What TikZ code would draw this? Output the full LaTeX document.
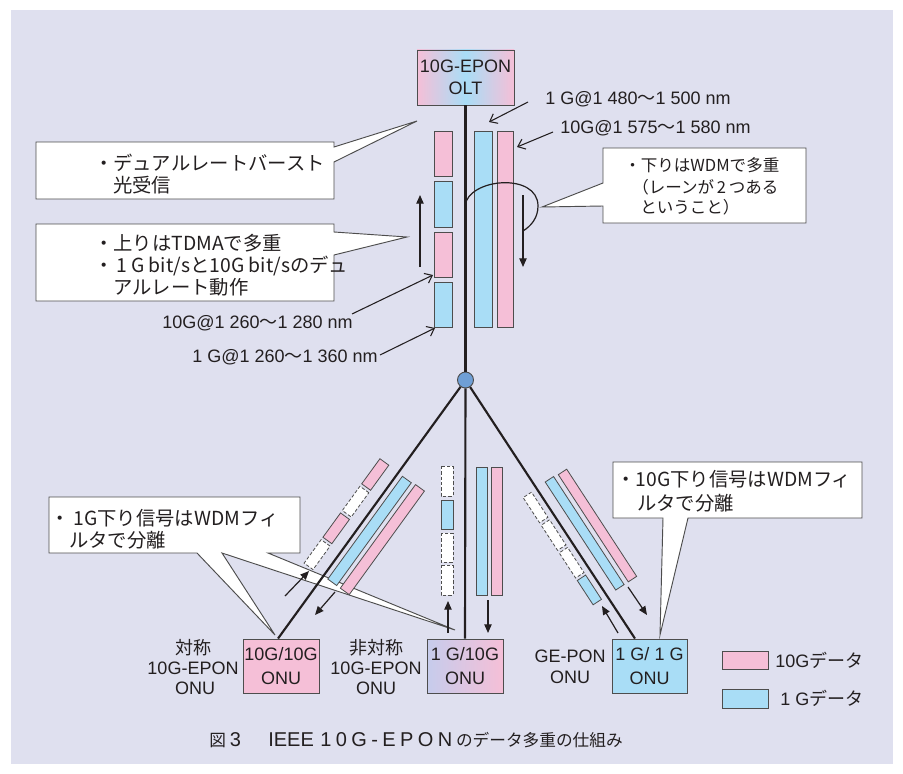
\documentclass[tikz,border=0pt]{standalone}
\usepackage{fontspec}
\setmainfont{Liberation Sans}
\newfontfamily\jp{Noto Sans CJK JP}
\newfontfamily\jpn{Noto Sans CJK JP}
\newfontfamily\capwide[LetterSpace=22]{Liberation Sans}
\usetikzlibrary{arrows.meta,calc}
\definecolor{bg}{HTML}{DFE0EF}
\definecolor{pk}{HTML}{F5BFD7}
\definecolor{bl}{HTML}{A9DDF6}
\definecolor{ink}{HTML}{231F20}
\definecolor{hubc}{HTML}{6F9FD6}
\definecolor{edge}{HTML}{4D4D4D}
\definecolor{lav}{HTML}{C6CCEC}
\begin{document}
\begin{tikzpicture}[x=0.75pt,y=-0.75pt,
  fiber/.style={line width=1.6pt, draw=ink},
  pbar/.style={fill=pk, draw=edge, line width=0.6pt},
  bbar/.style={fill=bl, draw=edge, line width=0.6pt},
  dbar/.style={fill=white, draw=edge, line width=0.6pt, dash pattern=on 2.5pt off 1.5pt},
  flow/.style={draw=ink, line width=0.9pt, -{Triangle[length=6.5pt,width=5.5pt]}},
  lblarrow/.style={draw=ink, line width=0.8pt, -{Straight Barb[length=5pt,width=8pt]}},
  callout/.style={fill=white, draw=edge, line width=0.7pt},
  lat/.style={font=\fontsize{13.5pt}{16pt}\selectfont, text=ink, inner sep=0pt},
  jt/.style={font=\jp\fontsize{14.5pt}{16pt}\selectfont, text=ink, inner sep=0pt, anchor=west},
  jts/.style={font=\jp\fontsize{12.4pt}{15pt}\selectfont, text=ink, inner sep=0pt, anchor=west},
  capt/.style={text=ink, inner sep=0pt, font=\fontsize{15pt}{17pt}\selectfont},
  onubox/.style={draw=edge, line width=0.7pt, minimum width=57pt, minimum height=40.5pt, align=center, font=\fontsize{13.5pt}{17.5pt}\selectfont, text=ink, inner sep=0pt},
]
\useasboundingbox (0,0) rectangle (903,774);
\fill[bg] (11,10) rectangle (893,764);

% callouts
\draw[callout] (36,142) -- (334,142) -- (334,147) -- (417,121) -- (334,162) -- (334,199) -- (36,199) -- cycle;
\draw[callout] (36,224) -- (334,224) -- (334,232) -- (407,237) -- (334,255) -- (334,301) -- (36,301) -- cycle;
\draw[callout] (603,148) -- (806,148) -- (806,223) -- (603,223) -- (603,206) -- (542,207) -- (603,183) -- cycle;
\draw[callout] (49,497) -- (300,497) -- (300,553) -- (268,553) -- (455,630) -- (222,553) -- (275,635) -- (197,553) -- (49,553) -- cycle;
\draw[callout] (613,462) -- (862,462) -- (862,518) -- (688,518) -- (660,635) -- (663,518) -- (613,518) -- cycle;

% upstream bars at OLT
\draw[pbar] (434,131) rectangle (452,176);
\draw[bbar] (434,181) rectangle (452,227);
\draw[pbar] (434,232) rectangle (452,277);
\draw[bbar] (434,282) rectangle (452,327);
% downstream bars at OLT
\draw[bbar] (474,131) rectangle (492,327);
\draw[pbar] (497,131) rectangle (513,327);

% nodes
\node[onubox, left color=pk, right color=pk, middle color=bl, minimum width=72.75pt, minimum height=41.25pt, font=\fontsize{13.5pt}{16.5pt}\selectfont] (olt) at (465.5,77.5) {10G-EPON\\OLT};
\node[circle, fill=hubc, draw=edge, line width=0.7pt, minimum size=12pt, inner sep=0pt] (hub) at (465.5,380) {};
\node[onubox, fill=pk] (onu1) at (281,666) {10G/10G\\ONU};
\node[onubox, left color=lav, right color=pk] (onu2) at (465,666) {1 G/10G\\ONU};
\node[onubox, fill=bl, minimum width=56.25pt] (onu3) at (649.5,666) {1 G/ 1 G\\ONU};

% fibers
\draw[fiber] (olt.south) -- (hub);
\draw[fiber] (hub) -- ([xshift=-2.25pt]onu1.north);
\draw[fiber] (hub) -- (onu2.north);
\draw[fiber] (hub) -- ([xshift=-10.9pt]onu3.north);

% left branch bars
\begin{scope}[shift={(465.5,380)}, rotate=-125.98]
  \draw[pbar] (114,12) rectangle (145,23);
  \draw[dbar] (148,12) rectangle (178,23);
  \draw[pbar] (181,12) rectangle (211,23);
  \draw[dbar] (214,12) rectangle (243,23);
  \draw[bbar] (115,-5.5) rectangle (242,-16.5);
  \draw[pbar] (114,-21) rectangle (242,-32);
\end{scope}
% middle branch bars
\draw[dbar] (441,466) rectangle (453,496);
\draw[bbar] (441,500) rectangle (453,529);
\draw[dbar] (441,533) rectangle (453,562);
\draw[dbar] (441,565) rectangle (453,595);
\draw[bbar] (476,467) rectangle (487,595);
\draw[pbar] (491,467) rectangle (502,595);
% right branch bars
\begin{scope}[shift={(465.5,380)}, rotate=-56.87]
  \draw[dbar] (130,6) rectangle (160,16);
  \draw[dbar] (163,6) rectangle (193,16);
  \draw[dbar] (196,6) rectangle (226,16);
  \draw[bbar] (229,6) rectangle (258,16);
  \draw[bbar] (129,-11) rectangle (258,-21);
  \draw[pbar] (130,-26) rectangle (258,-36);
\end{scope}

% flow arrows
\coordinate (ua) at (420,267); \coordinate (ub) at (420,195);
\draw[flow] (ua) -- (ub);
\draw[ink, line width=0.9pt] (465,206) .. controls (468,178) and (538,172) .. (538,206) .. controls (538,218) and (531,226) .. (523,231);
\coordinate (da) at (523,195); \coordinate (db) at (523,267);
\draw[flow] (da) -- (db);

\coordinate (l1a) at (285,596); \coordinate (l1b) at (309,571);
\draw[flow] (l1a) -- (l1b);
\coordinate (l2a) at (335,592); \coordinate (l2b) at (315,615);
\draw[flow] (l2a) -- (l2b);
\coordinate (m1a) at (448,633); \coordinate (m1b) at (448,601);
\draw[flow] (m1a) -- (m1b);
\coordinate (m2a) at (488,600); \coordinate (m2b) at (488,633);
\draw[flow] (m2a) -- (m2b);
\coordinate (r1a) at (618,633); \coordinate (r1b) at (602,606);
\draw[flow] (r1a) -- (r1b);
\coordinate (r2a) at (628,587); \coordinate (r2b) at (647,615);
\draw[flow] (r2a) -- (r2b);

% wavelength labels
\node[lat, anchor=west] (w1) at (545,99) {1 G@1 480{\jpn 〜}1 500 nm};
\node[lat, anchor=west] (w2) at (560,128) {10G@1 575{\jpn 〜}1 580 nm};
\node[lat, anchor=east] (w3) at (353,323) {10G@1 260{\jpn 〜}1 280 nm};
\node[lat, anchor=east] (w4) at (378,357) {1 G@1 260{\jpn 〜}1 360 nm};
\coordinate (h1) at (489,122);
\coordinate (h2) at (517,147);
\coordinate (h3) at (433,275);
\coordinate (h4) at (435,328);
\draw[lblarrow] ([xshift=-12.75pt,yshift=-2.25pt]w1.west) -- (h1);
\draw[lblarrow] ([xshift=-5.25pt,yshift=-3pt]w2.west) -- (h2);
\draw[lblarrow] ([xshift=-0.75pt,yshift=6.75pt]w3.east) -- (h3);
\draw[lblarrow] ([xshift=1.5pt,yshift=1.5pt]w4.east) -- (h4);

% callout texts
\node[jt] (c1a) at (94,163) {・デュアルレートバースト};
\node[jt] (c1b) at (113,185) {光受信};
\node[jt] (c2a) at (94,243) {・上りはTDMAで多重};
\node[jt] (c2b) at (94,266) {・\hspace{2pt}1 G bit/sと10G bit/sのデュ};
\node[jt] (c2c) at (113,287) {アルレート動作};
\node[jts] (c3a) at (624,165) {・下りはWDMで多重};
\node[jts] (c3b) at (632,187) {（レーンが\,2\,つある};
\node[jts] (c3c) at (640,207) {ということ）};
\node[jt] (c4a) at (50,518) {・\hspace{3pt}1G下り信号はWDMフィ};
\node[jt] (c4b) at (69,540) {ルタで分離};
\node[jt] (c5a) at (616,479) {・10G下り信号はWDMフィ};
\node[jt] (c5b) at (637,503) {ルタで分離};

% side labels
\node[lat] (s1a) at (193,648) {\jpn 対称};
\node[lat] (s1b) at (193,668) {10G-EPON};
\node[lat] (s1c) at (195,688) {ONU};
\node[lat] (s2a) at (376,648) {\jpn 非対称};
\node[lat] (s2b) at (376,668) {10G-EPON};
\node[lat] (s2c) at (376,688) {ONU};
\node[lat] (s3a) at (570,656) {GE-PON};
\node[lat] (s3b) at (570,677) {ONU};

% legend
\node[draw=edge, line width=0.7pt, fill=pk, minimum width=34.5pt, minimum height=13.5pt, inner sep=0pt] (lg1) at (745,660) {};
\node[lat, anchor=west] (lt1) at (775,660) {10G{\jpn データ}};
\node[draw=edge, line width=0.7pt, fill=bl, minimum width=34.5pt, minimum height=14.25pt, inner sep=0pt] (lg2) at (745,698.5) {};
\node[lat, anchor=west] (lt2) at (780,698) {1 G{\jpn データ}};

% caption
\node[capt, anchor=west] (capa) at (209,740) {{\jpn\fontsize{12.5pt}{15pt}\selectfont 図}\hspace{3pt}3};
\node[capt, anchor=west] (capb) at (268,740) {IEEE};
\node[capt, anchor=west] (capc) at (320,740) {\capwide 10G-EPON};
\node[capt, anchor=east] (capd) at (623,740) {\jpn\fontsize{12.5pt}{15pt}\selectfont のデータ多重の仕組み};
\end{tikzpicture}
\end{document}
